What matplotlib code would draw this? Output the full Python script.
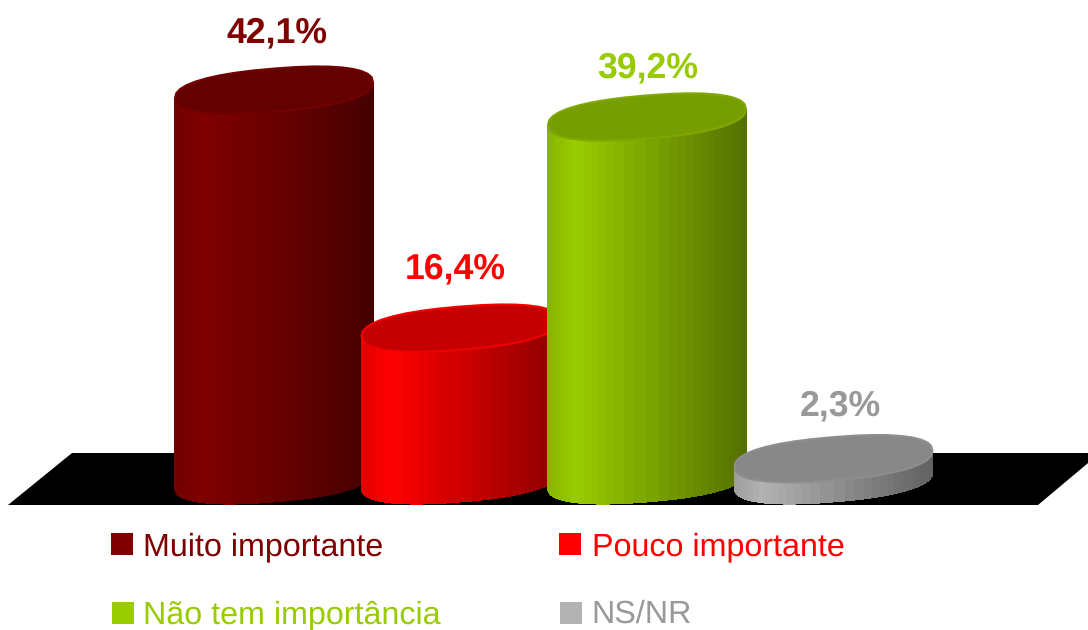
import numpy as np
import matplotlib
matplotlib.use('Agg')
import matplotlib.pyplot as plt
from matplotlib.colors import to_rgb

plt.rcParams['font.family'] = ['Liberation Sans', 'DejaVu Sans']
plt.rcParams['text.hinting'] = 'none'

categories = ['Muito importante', 'Pouco importante', 'Não tem importância', 'NS/NR']
values = [42.1, 16.4, 39.2, 2.3]
value_labels = ['42,1%', '16,4%', '39,2%', '2,3%']
colors = ['#800000', '#ff0000', '#99cc00', '#b2b2b2']
top_colors = ['#630000', '#c40000', '#769e00', '#888888']
edge_colors = ['#740000', '#f00000', '#7fa800', '#8e8e8e']
text_colors = ['#800000', '#ff0000', '#99cc00', '#999999']

W, H = 1088, 630
BASE_PX = 480
PX_PER_PCT = 9.26
FIRST_PX = 274
STEP_PX = 186.5

fig = plt.figure(figsize=(W / 100, H / 100), dpi=100)

# floor and legend live in a plain pixel axes
bg = fig.add_axes([0, 0, 1, 1])
bg.set_xlim(0, W)
bg.set_ylim(H, 0)
bg.axis('off')
bg.fill([72, 1100, 1038, 8], [453, 453, 505, 505], color='black', lw=0)

swatch_x = [111, 559, 112, 560]
swatch_y = [533, 533, 602, 602]
text_x = [143, 592, 143, 591]
text_y = [555, 555, 623, 623]
for i in range(4):
    bg.fill(np.array([0, 22, 22, 0]) + swatch_x[i], np.array([0, 0, 22, 22]) + swatch_y[i],
            color=colors[i], lw=0)
    bg.text(text_x[i], text_y[i], categories[i], color=text_colors[i], fontsize=23.2,
            ha='left', va='baseline')

# cylinders: x is the category index, y is the value in percent
ax = fig.add_axes([0, 0, 1, 1])
ax.patch.set_alpha(0)
ax.set_xlim(-FIRST_PX / STEP_PX, (W - FIRST_PX) / STEP_PX)
ax.set_ylim((BASE_PX - H) / PX_PER_PCT, BASE_PX / PX_PER_PCT)
ax.axis('off')

half_w = 99 / STEP_PX
half_h = 21.6 / PX_PER_PCT
tilt = 8 / PX_PER_PCT


def rim(i, level, t):
    # slightly squared ellipse, the original outline is blunt at the ends
    c = np.sign(np.cos(t)) * np.abs(np.cos(t)) ** 0.85
    s = np.sign(np.sin(t)) * np.abs(np.sin(t)) ** 0.85
    return i + half_w * c, level + half_h * s + tilt * c


def shade(f):
    if f < 0.14:
        return 0.88 + 0.12 * f / 0.14
    return 1.0 - 0.45 * (f - 0.14) / 0.86


n = 36
for i, v in enumerate(values):
    t = np.linspace(np.pi, 2 * np.pi, n + 1)
    xt, yt = rim(i, v, t)
    xb, yb = rim(i, 0, t)
    base = np.array(to_rgb(colors[i]))
    for k in range(n):
        c = base * shade((xt[k] + xt[k + 1] - 2 * i + 2 * half_w) / (4 * half_w))
        ax.fill([xt[k], xt[k + 1], xb[k + 1], xb[k]], [yt[k], yt[k + 1], yb[k + 1], yb[k]],
                facecolor=c, edgecolor=c, lw=0.5, antialiased=False)
    tt = np.linspace(0, 2 * np.pi, 37)
    xe, ye = rim(i, v, tt)
    ax.fill(xe, ye, facecolor=top_colors[i], edgecolor=edge_colors[i], lw=1.5, joinstyle='round')

label_dx = [3, -5, 1, 7]
label_gap = [57, 59, 49, 53]
for i, v in enumerate(values):
    ax.text(i + label_dx[i] / STEP_PX, v + label_gap[i] / PX_PER_PCT, value_labels[i],
            color=text_colors[i], fontsize=25.7, fontweight='bold', ha='center', va='center')

fig.savefig('out.png', dpi=100)
